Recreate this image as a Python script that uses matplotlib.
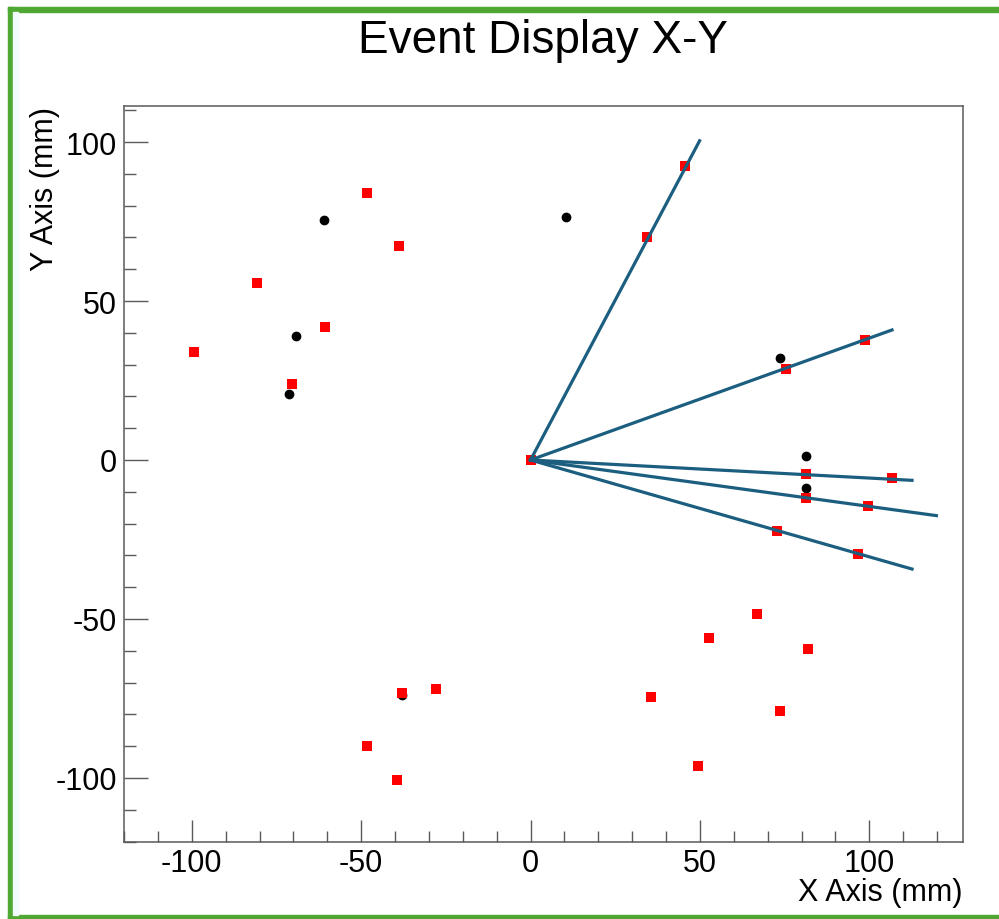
import matplotlib
matplotlib.use("Agg")
import matplotlib.pyplot as plt
from matplotlib.ticker import MultipleLocator
from matplotlib.patches import Rectangle

plt.rcParams['font.family'] = ['Liberation Sans', 'DejaVu Sans']
plt.rcParams['axes.unicode_minus'] = False

# hits on tracks / noise hits (mm)
red_x = [-99.4, -80.6, -48.3, -38.7, -60.6, -70.4, 0.0, 45.5, 34.5, 98.6, 75.3,
         81.4, 106.8, 81.4, 99.6, 72.8, 96.7, 66.9, 52.8, 81.9, 35.7, 73.6, 49.3,
         -37.9, -28.0, -48.4, -39.3]
red_y = [34.0, 55.8, 84.0, 67.4, 41.7, 24.0, 0.0, 92.4, 70.0, 37.6, 28.6,
         -4.5, -5.6, -11.9, -14.4, -22.2, -29.5, -48.4, -56.0, -59.4, -74.5, -78.9, -96.2,
         -73.4, -72.0, -89.9, -100.6]

black_x = [-60.9, -69.1, -71.2, 10.5, 73.5, 81.4, 81.4, -37.9]
black_y = [75.5, 39.1, 20.8, 76.3, 32.2, 1.4, -8.8, -74.0]

# reconstructed tracks, all starting at the origin
track_end_x = [49.9, 106.7, 112.6, 119.8, 112.6]
track_end_y = [100.4, 40.9, -6.4, -17.5, -34.3]

fig = plt.figure(figsize=(9.99, 9.2), dpi=100)
W, H = 999, 920

# green frame around the canvas
green = '#4fa832'
fig.patches.append(Rectangle((8 / W, 1 - 13 / H), 1.0, 5 / H, transform=fig.transFigure,
                             color=green, zorder=0))
fig.patches.append(Rectangle((8 / W, 1 - 920 / H), 5 / W, 912 / H, transform=fig.transFigure,
                             color=green, zorder=0))
fig.patches.append(Rectangle((8 / W, 1 - 920 / H), 1.0, 4 / H, transform=fig.transFigure,
                             color=green, zorder=0))
fig.patches.append(Rectangle((13 / W, 1 - 916 / H), 5 / W, 903 / H, transform=fig.transFigure,
                             color='#f0fbfd', zorder=0))

ax = fig.add_axes([124 / W, 1 - 842.5 / H, 838.5 / W, 736 / H])

ax.plot(black_x, black_y, 'o', color='black', markersize=6, zorder=2)
ax.plot(red_x, red_y, 's', color='red', markersize=6.8, markeredgewidth=0, zorder=3)
for ex, ey in zip(track_end_x, track_end_y):
    ax.plot([0, ex], [0, ey], color='#1b5e80', linewidth=2.3, zorder=4)

ax.set_xlim(-120, 127.5)
ax.set_ylim(-120, 111.5)

for side in ['top', 'right', 'bottom', 'left']:
    ax.spines[side].set_color('#5a5a5a')
    ax.spines[side].set_linewidth(1.1)

ax.xaxis.set_major_locator(MultipleLocator(50))
ax.xaxis.set_minor_locator(MultipleLocator(10))
ax.yaxis.set_major_locator(MultipleLocator(50))
ax.yaxis.set_minor_locator(MultipleLocator(10))

ax.tick_params(axis='x', which='major', direction='in', length=15.5, width=1, color='#5a5a5a',
               labelsize=22, pad=5, top=False)
ax.tick_params(axis='x', which='minor', direction='in', length=7.7, width=1, color='#5a5a5a', top=False)
ax.tick_params(axis='y', which='major', direction='in', length=17, width=1, color='#5a5a5a',
               labelsize=22, pad=5, right=False)
ax.tick_params(axis='y', which='minor', direction='in', length=8.6, width=1, color='#5a5a5a', right=False)

fig.text(543 / W, 1 - 41 / H, 'Event Display X-Y', ha='center', va='center', fontsize=33)
fig.text(962 / W, 1 - 893 / H, 'X Axis (mm)', ha='right', va='center', fontsize=22)
fig.text(45 / W, 1 - 107 / H, 'Y Axis (mm)', ha='center', va='top', rotation=90, fontsize=22)

fig.savefig('out.png', dpi=100)
